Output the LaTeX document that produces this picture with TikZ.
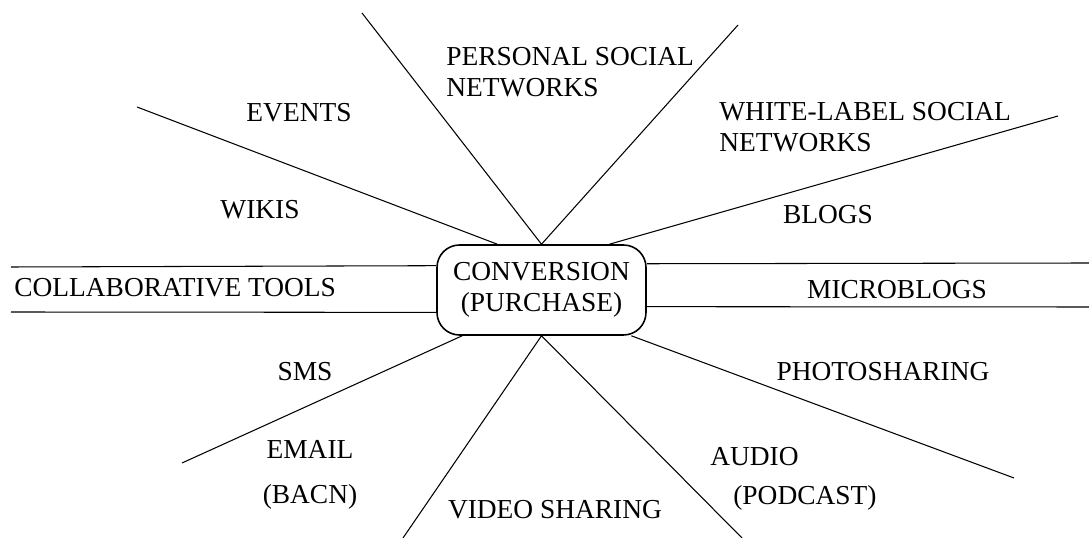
\documentclass[tikz,border=0pt]{standalone}
\usepackage{fontspec}
\setmainfont{Liberation Serif}
\usetikzlibrary{positioning,calc}

\tikzset{
  hub/.style={draw, line width=0.9pt, rounded corners=0.45cm, minimum width=4.18cm, minimum height=1.8cm, align=center, inner sep=0pt},
  lbl/.style={inner sep=0pt, align=left},
  spoke/.style={line width=0.6pt},
}

\begin{document}
\begin{tikzpicture}[x=0.2mm, y=-0.2mm, font=\fontsize{15.6}{17.5}\selectfont]
    \useasboundingbox (0,0) rectangle (1089,538);

    % Centre box
    \node[hub] (conv) at (541.5,290) {CONVERSION\\(PURCHASE)};

    % Free ends of the spokes
    \coordinate (pers-l) at (362,13);
    \coordinate (pers-r) at (738,25);
    \coordinate (events) at (137,107);
    \coordinate (blogs) at (1058,116);
    \coordinate (collab-a) at (11,267);
    \coordinate (collab-b) at (11,312);
    \coordinate (micro-a) at (1089,263);
    \coordinate (micro-b) at (1089,307);
    \coordinate (sms) at (182,463);
    \coordinate (video-l) at (403,538);
    \coordinate (video-r) at (742,538);
    \coordinate (photo) at (1014,478);

    % Spokes
    \draw[spoke] (pers-l) -- (conv.north) -- (pers-r);
    \draw[spoke] (events) -- (conv.134.7);
    \draw[spoke] (blogs) -- (conv.34.5);
    \draw[spoke] (collab-a) -- (conv.167.6);
    \draw[spoke] (collab-b) -- (conv.192.4);
    \draw[spoke] (micro-a) -- (conv.14.5);
    \draw[spoke] (micro-b) -- (conv.-9.2);
    \draw[spoke] (sms) -- (conv.-150.7);
    \draw[spoke] (video-l) -- (conv.south) -- (video-r);
    \draw[spoke] (photo) -- (conv.-27);

    % Labels
    \node[lbl, anchor=west] (personal) at (446,72) {PERSONAL SOCIAL\\NETWORKS};
    \node[lbl] (events-t) at (299,113) {EVENTS};
    \node[lbl] (wikis) at (260,210) {WIKIS};
    \node[lbl, anchor=west] (whitelabel) at (719,127.5) {WHITE-LABEL SOCIAL\\NETWORKS};
    \node[lbl] (blogs-t) at (828,215) {BLOGS};
    \node[lbl, anchor=west] (collab) at (14,288) {COLLABORATIVE TOOLS};
    \node[lbl] (micro) at (897,290) {MICROBLOGS};
    \node[lbl] (sms-t) at (305,372) {SMS};
    \node[lbl, align=center] (email) at (310,474.5) {EMAIL\\[2.8mm](BACN)};
    \node[lbl] (video) at (555,510) {VIDEO SHARING};
    \node[lbl] (photo-t) at (883,372) {PHOTOSHARING};
    \node[lbl, anchor=west] (audio) at (710,457) {AUDIO};
    \node[lbl, anchor=west] (podcast) at (733,498) {(PODCAST)};
\end{tikzpicture}
\end{document}
